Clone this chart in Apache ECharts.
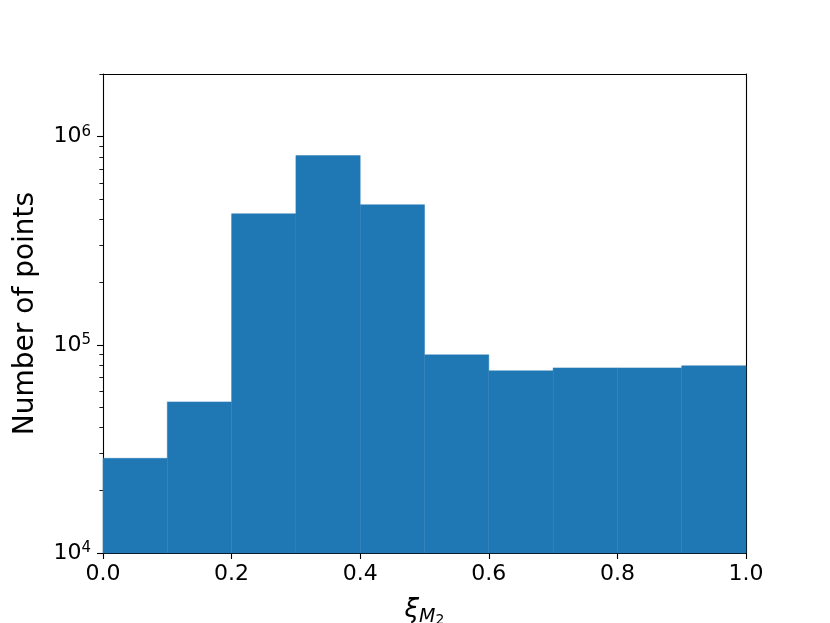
<!DOCTYPE html>
<html>
<head>
<meta charset="utf-8">
<script src="https://cdn.jsdelivr.net/npm/echarts@6/dist/echarts.min.js"></script>
<style>html,body{margin:0;padding:0;background:#fff}#c{width:830px;height:623px}</style>
</head>
<body>
<div id="c"></div>
<script>
var binStarts = [0.0, 0.1, 0.2, 0.3, 0.4, 0.5, 0.6, 0.7, 0.8, 0.9];
var binWidth = 0.1;
var counts = [28500, 53200, 426000, 811000, 471000, 89500, 75000, 77500, 77500, 79300];
var yMajorTicks = [1e4, 1e5, 1e6];
var yMinorTicks = [2e4,3e4,4e4,5e4,6e4,7e4,8e4,9e4,2e5,3e5,4e5,5e5,6e5,7e5,8e5,9e5,2e6];
var xTickLabels = ['0.0','0.2','0.4','0.6','0.8','1.0'];
var yMin = 1e4, yMax = 2e6;

var FONT = 'DejaVu Sans';
var data = binStarts.map(function (s, i) { return [s, s + binWidth, counts[i]]; });

var chart = echarts.init(document.getElementById('c'), null, {renderer: 'canvas'});
chart.setOption({
  animation: false,
  backgroundColor: '#fff',
  grid: {left: 103, right: 84, top: 74, bottom: 70, containLabel: false, outerBoundsMode: 'none'},
  xAxis: [{
    type: 'value', min: 0, max: 1, interval: 0.2, position: 'bottom',
    axisLine: {show: true, onZero: false, lineStyle: {color: '#000', width: 1.1}},
    axisTick: {show: true, inside: false, length: 6, lineStyle: {color: '#000', width: 1.1}},
    axisLabel: {color: '#000', fontFamily: FONT, fontSize: 22, margin: 10,
      formatter: function (v) { return xTickLabels[Math.round(v / 0.2)]; }},
    splitLine: {show: false},
    name: '{i|ξ}{sub|M}{sub2|2}',
    nameLocation: 'middle', nameGap: 40,
    nameTextStyle: {
      rich: {
        i: {fontFamily: FONT, fontStyle: 'italic', fontSize: 26, color: '#000'},
        sub: {fontFamily: FONT, fontStyle: 'italic', fontSize: 19, color: '#000', padding: [14, 0, 0, 0]},
        sub2: {fontFamily: FONT, fontSize: 14, color: '#000', padding: [20, 0, 0, 0]}
      }
    }
  }, {
    type: 'value', min: 0, max: 1, position: 'top',
    axisLine: {show: true, onZero: false, lineStyle: {color: '#000', width: 1.1}},
    axisTick: {show: false}, axisLabel: {show: false}, splitLine: {show: false}
  }],
  yAxis: [{
    type: 'log', logBase: 10, min: yMin, max: yMax, position: 'left',
    axisLine: {show: true, onZero: false, lineStyle: {color: '#000', width: 1.1}},
    axisTick: {show: true, inside: false, length: 6, customValues: yMajorTicks, lineStyle: {color: '#000', width: 1.1}},
    axisLabel: {color: '#000', fontFamily: FONT, margin: 12, customValues: yMajorTicks,
      formatter: function (v) {
        var e = Math.round(Math.log10(v));
        return '{b|10}{s|' + e + '}';
      },
      rich: {
        b: {fontFamily: FONT, fontSize: 22, color: '#000'},
        s: {fontFamily: FONT, fontSize: 15, color: '#000', padding: [0, 0, 10, 0]}
      }
    },
    splitLine: {show: false},
    name: 'Number of points', nameLocation: 'middle', nameGap: 63, nameRotate: 90,
    nameTextStyle: {fontFamily: FONT, fontSize: 28, color: '#000'}
  }, {
    type: 'log', logBase: 10, min: yMin, max: yMax, position: 'left',
    axisLine: {show: false},
    axisTick: {show: true, inside: false, length: 3.6, customValues: yMinorTicks, lineStyle: {color: '#000', width: 0.9}},
    axisLabel: {show: false}, splitLine: {show: false}
  }, {
    type: 'log', logBase: 10, min: yMin, max: yMax, position: 'right',
    axisLine: {show: true, onZero: false, lineStyle: {color: '#000', width: 1.1}},
    axisTick: {show: false}, axisLabel: {show: false}, splitLine: {show: false}
  }],
  series: [{
    type: 'custom',
    xAxisIndex: 0, yAxisIndex: 0,
    data: data,
    renderItem: function (params, api) {
      var p0 = api.coord([api.value(0), api.value(2)]);
      var p1 = api.coord([api.value(1), yMin]);
      return {
        type: 'rect',
        shape: {x: p0[0], y: p0[1], width: p1[0] - p0[0], height: p1[1] - p0[1]},
        style: {fill: '#1f77b4', stroke: '#2a7db8', lineWidth: 0.5}
      };
    },
    z: 1
  }]
});
</script>
</body>
</html>
